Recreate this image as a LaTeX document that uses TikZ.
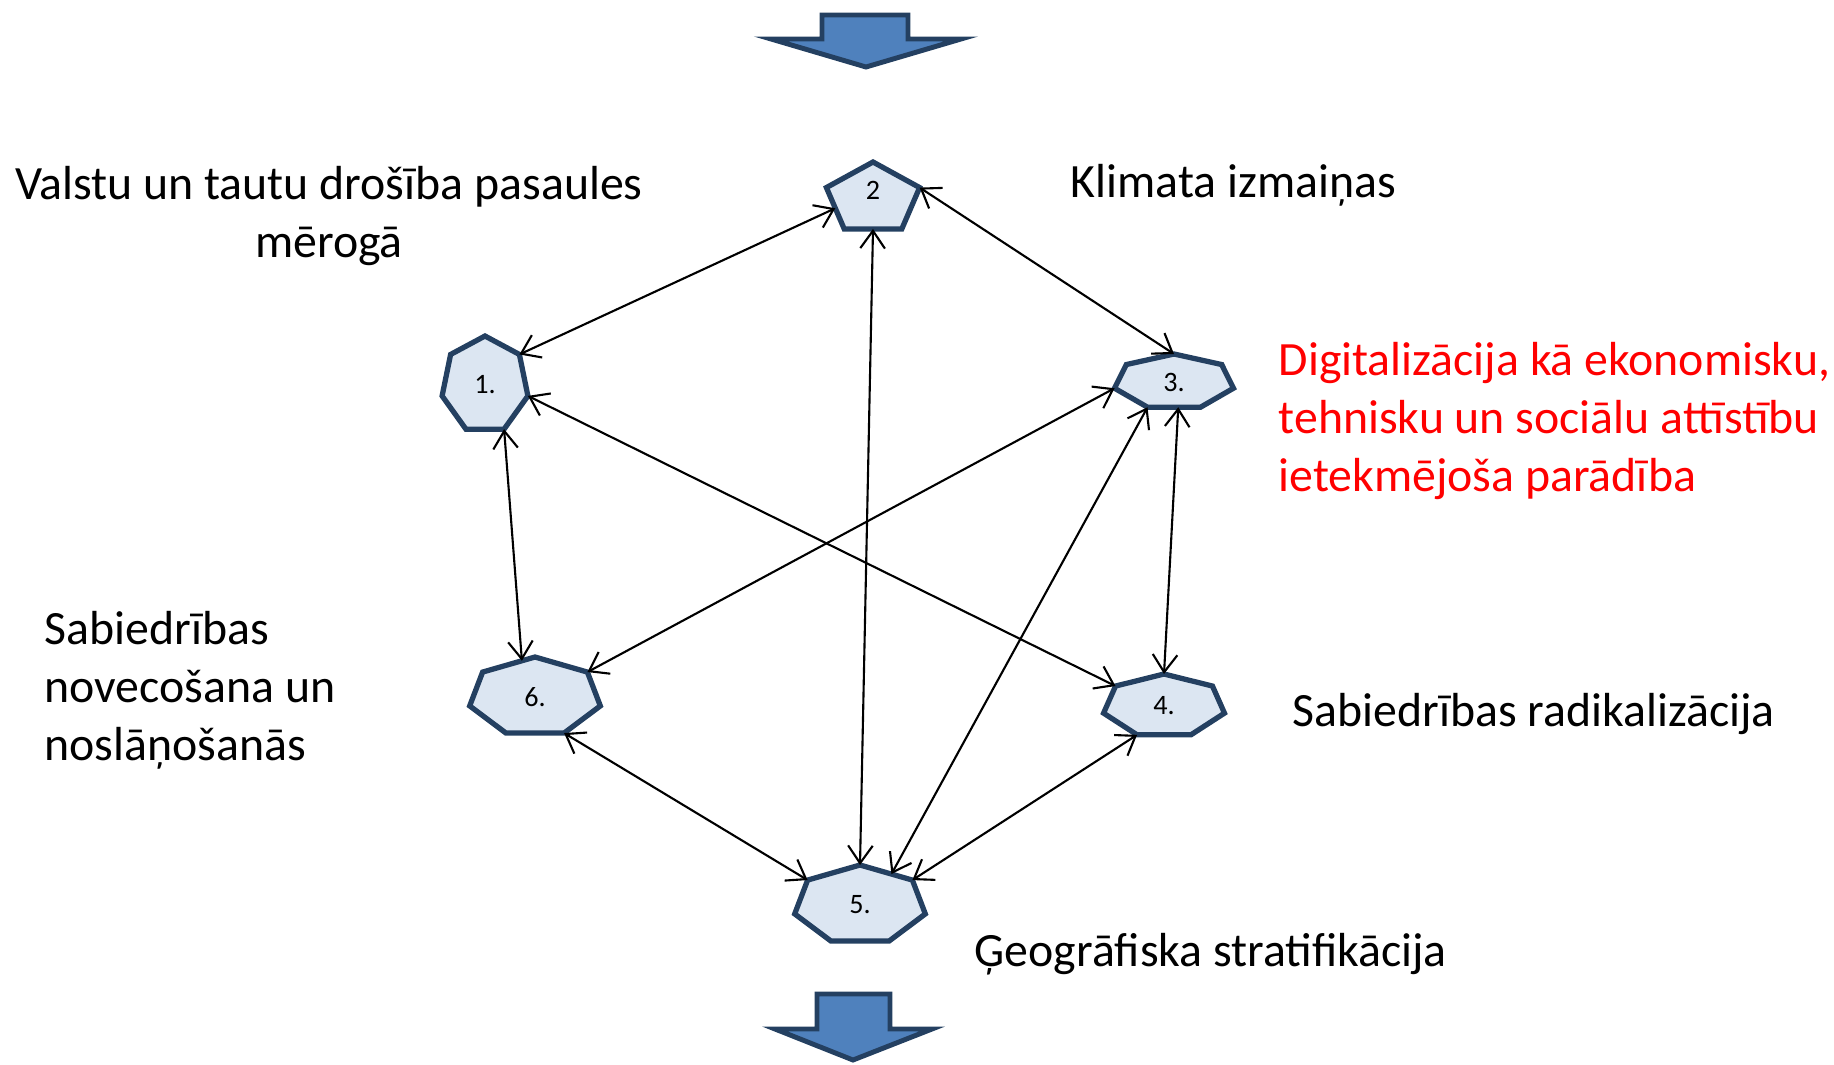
\documentclass[tikz,border=0pt]{standalone}
\usepackage{fontspec}
\setmainfont{Carlito}
\usetikzlibrary{arrows.meta,calc}
\definecolor{polyfill}{RGB}{220,230,242}
\definecolor{polyline}{RGB}{36,64,97}
\definecolor{flowblue}{RGB}{79,129,189}
\definecolor{digired}{RGB}{255,0,0}

% polygon with named corners: [label opts]{name}{sides}{x}{y}{x radius}{y radius}{text}
\newcommand{\polygonnode}[8][]{%
  \foreach \k in {1,...,#3}
    \coordinate (#2-\k) at ($(#4,#5)+({90+360/#3*(\k-1)}:#6 and #7)$);
  \draw[polyshape] (#2-1) \foreach \k in {2,...,#3} {-- (#2-\k)} -- cycle;
  \node[polylabel,#1] (#2) at (#4,#5) {#8};
}

\begin{document}
\begin{tikzpicture}[
    polyshape/.style={fill=polyfill, draw=polyline, line width=1.5pt, line join=miter},
    polylabel/.style={inner sep=0pt, font=\fontsize{8}{9.6}\selectfont},
    bigarrow/.style={fill=flowblue, draw=polyline, line width=1.4pt},
    link/.style={<->, >={Straight Barb[length=5pt, width=7pt]}, line width=0.6pt},
    topic/.style={inner sep=0pt, align=left, font=\fontsize{13.6}{16.5}\selectfont}
]
\useasboundingbox (0,0) rectangle (18.34,10.64);

% flow arrows
\draw[bigarrow] (8.22,10.49) -- (9.08,10.49) -- (9.08,10.25) -- (9.61,10.25)
    -- (8.66,9.97) -- (7.71,10.25) -- (8.22,10.25) -- cycle;
\draw[bigarrow] (8.17,0.70) -- (8.90,0.70) -- (8.90,0.35) -- (9.32,0.35)
    -- (8.53,0.04) -- (7.75,0.35) -- (8.17,0.35) -- cycle;

% factors
\polygonnode{n1}{7}{4.85}{6.79}{0.44}{0.49}{1.}
\polygonnode[yshift=0.09cm]{n2}{5}{8.73}{8.65}{0.49}{0.37}{2}
\polygonnode{n3}{7}{11.74}{6.82}{0.61}{0.28}{3.}
\polygonnode{n4}{7}{11.64}{3.58}{0.62}{0.32}{4.}
\polygonnode{n5}{7}{8.60}{1.59}{0.67}{0.40}{5.}
\polygonnode{n6}{7}{5.35}{3.67}{0.67}{0.40}{6.}

% links
\draw[link] (n1-7) -- ($(n2-2)!0.5!(n2-3)$);
\draw[link] (n2-5) -- (n3-1);
\draw[link] ($(n2-3)!0.5!(n2-4)$) -- (n5-1);
\draw[link] (n1-5) -- ($(n6-1)!0.25!(n6-2)$);
\draw[link] (n1-6) -- (n4-2);
\draw[link] (n3-3) -- (n6-7);
\draw[link] (n3-4) -- ($(n5-1)!0.6!(n5-7)$);
\draw[link] ($(n3-4)!0.58!(n3-5)$) -- (n4-1);
\draw[link] (n6-5) -- (n5-2);
\draw[link] (n4-4) -- (n5-7);

% labels (base = last line)
\node[topic, align=center, anchor=base] (t1) at (3.29,8.07) {Valstu un tautu drošība pasaules\\mērogā};
\node[topic, anchor=base west] (t2) at (10.70,8.67) {Klimata izmaiņas};
\node[topic, anchor=base west, text=digired] (t3) at (12.78,5.73) {Digitalizācija kā ekonomisku,\\tehnisku un sociālu attīstību\\ietekmējoša parādība};
\node[topic, anchor=base west] (t4) at (12.92,3.38) {Sabiedrības radikalizācija};
\node[topic, anchor=base west] (t5) at (9.74,0.98) {Ģeogrāfiska stratifikācija};
\node[topic, anchor=base west] (t6) at (0.44,3.04) {Sabiedrības\\novecošana un\\noslāņošanās};

\end{tikzpicture}
\end{document}
